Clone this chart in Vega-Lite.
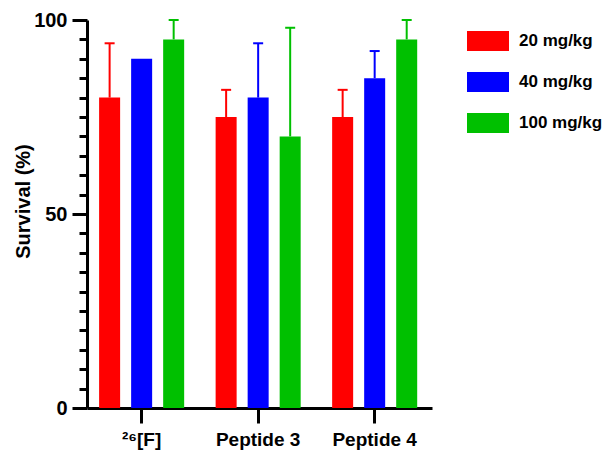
{
  "$schema": "https://vega.github.io/schema/vega-lite/v6.json",
  "width": 345,
  "height": 388,
  "autosize": {"type": "none"},
  "padding": {"left": 87, "top": 20, "right": 173, "bottom": 47},
  "config": {"view": {"stroke": null}, "font": "Liberation Sans"},
  "data": {"values": [
    {"group": "²⁶[F]", "dose": "20 mg/kg", "value": 80, "upper": 94},
    {"group": "²⁶[F]", "dose": "40 mg/kg", "value": 90, "upper": 90},
    {"group": "²⁶[F]", "dose": "100 mg/kg", "value": 95, "upper": 100},
    {"group": "Peptide 3", "dose": "20 mg/kg", "value": 75, "upper": 82},
    {"group": "Peptide 3", "dose": "40 mg/kg", "value": 80, "upper": 94},
    {"group": "Peptide 3", "dose": "100 mg/kg", "value": 70, "upper": 98},
    {"group": "Peptide 4", "dose": "20 mg/kg", "value": 75, "upper": 82},
    {"group": "Peptide 4", "dose": "40 mg/kg", "value": 85, "upper": 92},
    {"group": "Peptide 4", "dose": "100 mg/kg", "value": 95, "upper": 100}
  ]},
  "encoding": {
    "x": {
      "field": "group", "type": "nominal", "sort": null,
      "scale": {"paddingInner": 0.27, "paddingOuter": 0.1155, "align": 0.45},
      "axis": {
        "title": null, "labelAngle": 0, "tickSize": 15, "tickWidth": 3, "tickColor": "black",
        "domainWidth": 3, "domainColor": "black", "labelFontSize": 19, "labelFontWeight": "bold",
        "labelColor": "black", "labelPadding": 7, "labelFont": "Liberation Sans"
      }
    },
    "xOffset": {
      "field": "dose", "type": "nominal", "sort": ["20 mg/kg", "40 mg/kg", "100 mg/kg"],
      "scale": {"paddingInner": 0.344, "paddingOuter": 0}
    },
    "color": {
      "field": "dose", "type": "nominal", "sort": ["20 mg/kg", "40 mg/kg", "100 mg/kg"],
      "scale": {"domain": ["20 mg/kg", "40 mg/kg", "100 mg/kg"], "range": ["#FF0000", "#0000FF", "#00C000"]},
      "legend": {
        "title": null, "orient": "none", "legendX": 380, "legendY": 0,
        "symbolType": "M-1,-0.476H1V0.476H-1Z", "symbolSize": 1764, "symbolStrokeWidth": 0,
        "symbolOpacity": 1, "labelFontSize": 17, "labelFontWeight": "bold", "labelColor": "black",
        "labelOffset": 10, "rowPadding": 10, "labelFont": "Liberation Sans"
      }
    }
  },
  "layer": [
    {
      "mark": {"type": "bar", "opacity": 1},
      "encoding": {
        "y": {
          "field": "value", "type": "quantitative",
          "scale": {"domain": [0, 100], "nice": false},
          "axis": {
            "values": [0, 5, 10, 15, 20, 25, 30, 35, 40, 45, 50, 55, 60, 65, 70, 75, 80, 85, 90, 95, 100],
            "labelExpr": "datum.value % 50 === 0 ? datum.label : ''",
            "tickSize": {"condition": {"test": "datum.value % 50 === 0", "value": 15}, "value": 8},
            "tickWidth": 3, "tickColor": "black", "domainWidth": 3, "domainColor": "black",
            "grid": false, "labelFontSize": 20, "labelFontWeight": "bold", "labelColor": "black",
            "labelPadding": 5, "labelOverlap": false, "labelFont": "Liberation Sans",
            "title": "Survival (%)", "titleFontSize": 20, "titleFontWeight": "bold", "titleColor": "black",
            "titleFont": "Liberation Sans", "titleAngle": -90, "titleX": -54, "titleY": 181,
            "titleAlign": "center", "titleBaseline": "bottom"
          }
        }
      }
    },
    {
      "transform": [{"filter": "datum.upper > datum.value"}],
      "mark": {"type": "rule", "strokeWidth": 2},
      "encoding": {
        "y": {
          "field": "value", "type": "quantitative",
          "axis": {
            "values": [0, 5, 10, 15, 20, 25, 30, 35, 40, 45, 50, 55, 60, 65, 70, 75, 80, 85, 90, 95, 100],
            "labelExpr": "datum.value % 50 === 0 ? datum.label : ''",
            "tickSize": {"condition": {"test": "datum.value % 50 === 0", "value": 15}, "value": 8},
            "tickWidth": 3, "tickColor": "black", "domainWidth": 3, "domainColor": "black",
            "grid": false, "labelFontSize": 20, "labelFontWeight": "bold", "labelColor": "black",
            "labelPadding": 5, "labelOverlap": false, "labelFont": "Liberation Sans",
            "title": "Survival (%)", "titleFontSize": 20, "titleFontWeight": "bold", "titleColor": "black",
            "titleFont": "Liberation Sans", "titleAngle": -90, "titleX": -54, "titleY": 181,
            "titleAlign": "center", "titleBaseline": "bottom"
          }
        },
        "y2": {"field": "upper"}
      }
    },
    {
      "transform": [{"filter": "datum.upper > datum.value"}],
      "mark": {"type": "tick", "thickness": 2, "size": 10, "orient": "horizontal", "opacity": 1},
      "encoding": {
        "y": {
          "field": "upper", "type": "quantitative",
          "axis": {
            "values": [0, 5, 10, 15, 20, 25, 30, 35, 40, 45, 50, 55, 60, 65, 70, 75, 80, 85, 90, 95, 100],
            "labelExpr": "datum.value % 50 === 0 ? datum.label : ''",
            "tickSize": {"condition": {"test": "datum.value % 50 === 0", "value": 15}, "value": 8},
            "tickWidth": 3, "tickColor": "black", "domainWidth": 3, "domainColor": "black",
            "grid": false, "labelFontSize": 20, "labelFontWeight": "bold", "labelColor": "black",
            "labelPadding": 5, "labelOverlap": false, "labelFont": "Liberation Sans",
            "title": "Survival (%)", "titleFontSize": 20, "titleFontWeight": "bold", "titleColor": "black",
            "titleFont": "Liberation Sans", "titleAngle": -90, "titleX": -54, "titleY": 181,
            "titleAlign": "center", "titleBaseline": "bottom"
          }
        }
      }
    }
  ]
}
